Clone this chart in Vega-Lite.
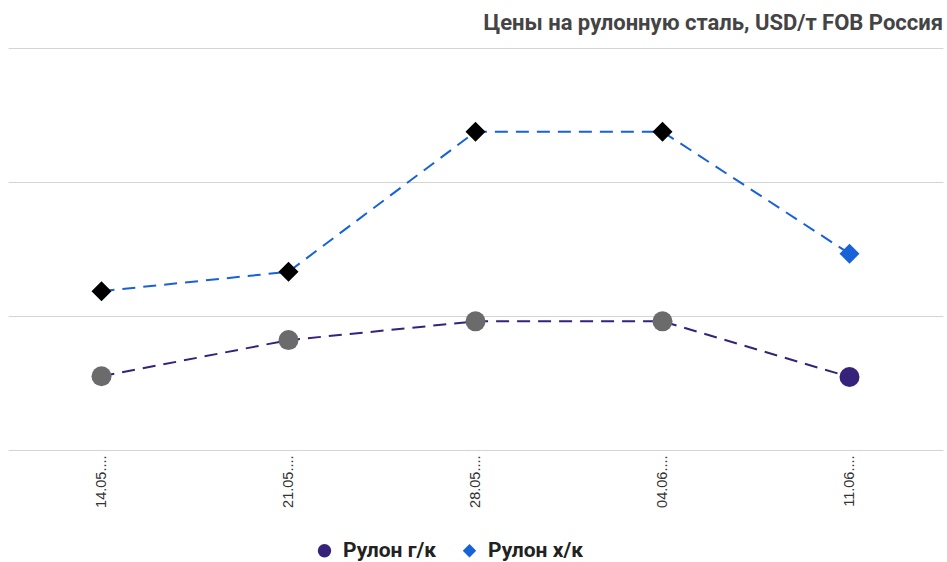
{
  "$schema": "https://vega.github.io/schema/vega-lite/v6.json",
  "width": 935,
  "height": 402,
  "autosize": {"type": "none"},
  "padding": {"left": 8, "top": 48, "right": 4, "bottom": 112},
  "background": "white",
  "config": {
    "view": {"stroke": null},
    "font": "Roboto"
  },
  "title": {
    "text": "Цены на рулонную сталь, USD/т FOB Россия",
    "anchor": "end",
    "fontSize": 22,
    "fontWeight": "bold",
    "color": "#444444",
    "offset": 13,
    "frame": "group"
  },
  "data": {
    "values": [
      {"date": "14.05.2021", "series": "Рулон г/к", "price": 910},
      {"date": "21.05.2021", "series": "Рулон г/к", "price": 964},
      {"date": "28.05.2021", "series": "Рулон г/к", "price": 992},
      {"date": "04.06.2021", "series": "Рулон г/к", "price": 992},
      {"date": "11.06.2021", "series": "Рулон г/к", "price": 909},
      {"date": "14.05.2021", "series": "Рулон х/к", "price": 1037},
      {"date": "21.05.2021", "series": "Рулон х/к", "price": 1066},
      {"date": "28.05.2021", "series": "Рулон х/к", "price": 1275},
      {"date": "04.06.2021", "series": "Рулон х/к", "price": 1275},
      {"date": "11.06.2021", "series": "Рулон х/к", "price": 1093}
    ]
  },
  "encoding": {
    "x": {
      "field": "date",
      "type": "ordinal",
      "sort": null,
      "axis": {
        "title": null,
        "labelAngle": -90,
        "domain": false,
        "ticks": false,
        "labelPadding": 5,
        "labelFontSize": 14.5,
        "labelColor": "#333333",
        "labelFont": "Liberation Sans",
        "labelExpr": "slice(datum.label, 0, 6) + '...'"
      }
    },
    "y": {
      "field": "price",
      "type": "quantitative",
      "scale": {"domain": [800, 1400], "nice": false, "zero": false},
      "axis": {
        "title": null,
        "labels": false,
        "ticks": false,
        "domain": false,
        "grid": true,
        "gridColor": "#d4d4d4",
        "values": [800, 1000, 1200, 1400]
      }
    }
  },
  "layer": [
    {
      "mark": {"type": "line", "strokeDash": [13, 8], "strokeWidth": 2},
      "encoding": {
        "stroke": {
          "field": "series",
          "type": "nominal",
          "scale": {"range": ["#36217b", "#1762d6"]},
          "legend": null
        }
      }
    },
    {
      "transform": [{"filter": "datum.date !== '11.06.2021' && datum.series === 'Рулон г/к'"}],
      "mark": {"type": "point", "shape": "circle", "filled": true, "size": 400, "opacity": 1, "color": "#6b6b6b"}
    },
    {
      "transform": [{"filter": "datum.date !== '11.06.2021' && datum.series === 'Рулон х/к'"}],
      "mark": {"type": "point", "shape": "diamond", "filled": true, "size": 400, "opacity": 1, "color": "#000000"}
    },
    {
      "transform": [{"filter": "datum.date === '11.06.2021'"}],
      "mark": {"type": "point", "filled": true, "size": 400, "opacity": 1},
      "encoding": {
        "shape": {
          "field": "series",
          "type": "nominal",
          "scale": {"domain": ["Рулон г/к", "Рулон х/к"], "range": ["circle", "diamond"]},
          "legend": {"orient": "none", "legendX": 306, "legendY": 492, "direction": "horizontal", "title": null, "labelFontSize": 21, "labelFontWeight": "bold", "labelColor": "#222222", "symbolSize": 180, "symbolOpacity": 1, "labelOffset": 8, "columnPadding": 22}
        },
        "color": {
          "field": "series",
          "type": "nominal",
          "scale": {"domain": ["Рулон г/к", "Рулон х/к"], "range": ["#36217b", "#1762d6"]},
          "legend": {"orient": "none", "legendX": 306, "legendY": 492, "direction": "horizontal", "title": null, "labelFontSize": 21, "labelFontWeight": "bold", "labelColor": "#222222", "symbolSize": 180, "symbolOpacity": 1, "labelOffset": 8, "columnPadding": 22}
        }
      }
    }
  ]
}
